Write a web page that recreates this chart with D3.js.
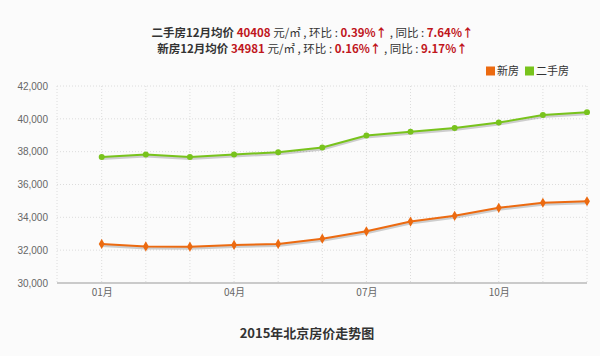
<!DOCTYPE html>
<html><head><meta charset="utf-8">
<script src="https://cdn.jsdelivr.net/npm/d3@7/dist/d3.min.js"></script>
<style>
html,body{margin:0;padding:0;background:#fbfbfb;}
svg{display:block;font-family:"Noto Sans CJK SC","Noto Sans",sans-serif;}
</style></head><body>
<script>
const months = ["01月","02月","03月","04月","05月","06月","07月","08月","09月","10月","11月","12月"];
const tickMonths = ["01月","04月","07月","10月"];
const secondHand = [37670,37830,37670,37830,37970,38260,38990,39220,39440,39770,40230,40408];
const newHome = [32380,32230,32210,32320,32380,32700,33150,33740,34090,34580,34890,34981];
const seriesNames = ["新房","二手房"];
const colors = {"新房":"#ec6a10","二手房":"#78c31c"};
const yTicks = [30000,32000,34000,36000,38000,40000,42000];
const headerLines = [
  [["二手房12月均价 ","b"],["40408","r"],[" 元/㎡ , 环比 : ","n"],["0.39%↑","r"],[" , 同比 : ","n"],["7.64%↑","r"]],
  [["新房12月均价 ","b"],["34981","r"],[" 元/㎡ , 环比 : ","n"],["0.16%↑","r"],[" , 同比 : ","n"],["9.17%↑","r"]]
];
const title = "2015年北京房价走势图";

(function(){
const W=600,H=356;
const svg=d3.select("body").append("svg").attr("width",W).attr("height",H);
svg.append("rect").attr("width",W).attr("height",H).attr("fill","#fbfbfb");

const pl=57,pr=587,pt=86,pb=283;
const x=d3.scalePoint().domain(months).range([101.7,587]);
const y=d3.scaleLinear().domain([30000,42000]).range([pb,pt]);

svg.append("g").selectAll("line").data(yTicks.slice(1)).join("line")
  .attr("x1",pl).attr("x2",pr).attr("y1",d=>y(d)).attr("y2",d=>y(d))
  .attr("stroke","#dcdcdc").attr("stroke-dasharray","1,2");
svg.append("g").selectAll("line").data([pl].concat(months.map(m=>x(m)))).join("line")
  .attr("x1",d=>d).attr("x2",d=>d).attr("y1",pt).attr("y2",pb)
  .attr("stroke","#dcdcdc").attr("stroke-dasharray","1,2");

const yAxis=d3.axisLeft(y).tickValues(yTicks).tickFormat(d3.format(",")).tickSize(0).tickPadding(9);
const gy=svg.append("g").attr("transform",`translate(${pl},0)`).call(yAxis);
gy.select(".domain").remove();
gy.selectAll("text").attr("fill","#666").style("font-size","10px").style("font-family","Arial,'Liberation Sans',sans-serif");

const xAxis=d3.axisBottom(x).tickValues(tickMonths).tickSize(0).tickPadding(6);
const gx=svg.append("g").attr("transform",`translate(0,${pb})`).call(xAxis);
gx.select(".domain").remove();
gx.selectAll("text").attr("fill","#666").style("font-size","10px").style("font-family","'Noto Sans CJK SC',sans-serif");
svg.append("line").attr("x1",pl).attr("x2",pr).attr("y1",pb).attr("y2",pb)
  .attr("stroke","#999").attr("stroke-width",1.2);

const line=d3.line().x((d,i)=>x(months[i])).y(d=>y(d));
function drawSeries(data,name,shape){
  const c=colors[name];
  svg.append("path").datum(data).attr("d",line).attr("fill","none")
    .attr("stroke","rgba(0,0,0,0.18)").attr("stroke-width",3).attr("transform","translate(0,1.5)");
  svg.append("path").datum(data).attr("d",line).attr("fill","none")
    .attr("stroke",c).attr("stroke-width",2);
  svg.append("g").selectAll("path").data(data).join("path")
    .attr("transform",(d,i)=>`translate(${x(months[i])},${y(d)})`)
    .attr("d",d3.symbol().type(shape).size(shape===d3.symbolCircle?28:30))
    .attr("fill",c);
}
drawSeries(secondHand,"二手房",d3.symbolCircle);
drawSeries(newHome,"新房",d3.symbolDiamond);

const lg=svg.append("g").attr("transform","translate(486,71)");
let lx=0;
seriesNames.forEach(n=>{
  lg.append("rect").attr("x",lx).attr("y",-4.5).attr("width",9).attr("height",9).attr("fill",colors[n]);
  const t=lg.append("text").attr("x",lx+11).attr("y",4).attr("fill","#333").style("font-size","11px").text(n);
  lx+=11+t.node().getComputedTextLength()+6;
});

headerLines.forEach((parts,li)=>{
  const t=svg.append("text").attr("x",312.5).attr("y",36.5+li*16).attr("text-anchor","middle").style("font-size","11.5px");
  parts.forEach(p=>{
    t.append("tspan").text(p[0])
      .attr("fill",p[1]==="r"?"#c0161c":"#333")
      .attr("font-weight",p[1]==="n"?"normal":"bold");
  });
});

svg.append("text").attr("x",307).attr("y",338).attr("text-anchor","middle")
  .attr("fill","#333").attr("font-weight","bold").style("font-size","13px").text(title);
})();
</script>
</body></html>
